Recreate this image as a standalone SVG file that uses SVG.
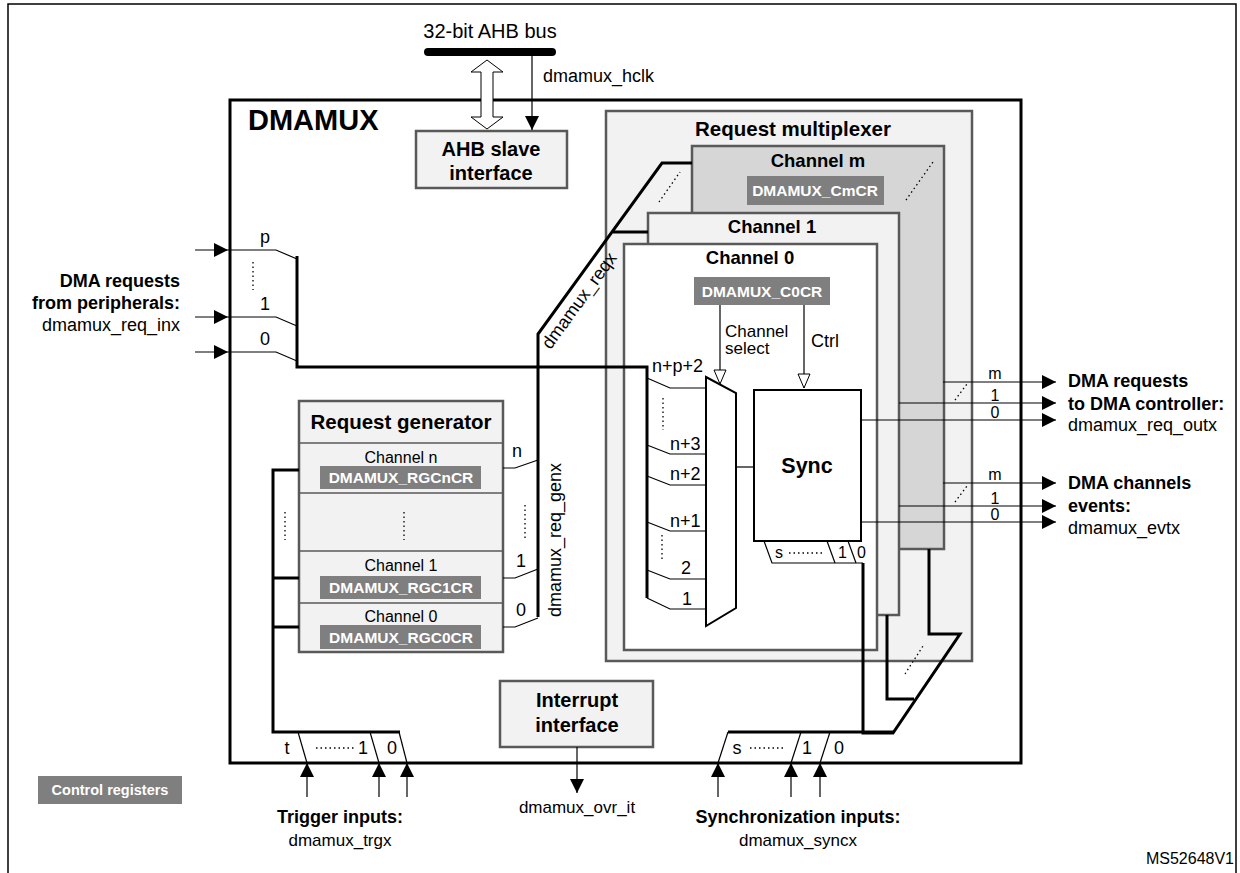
<svg xmlns="http://www.w3.org/2000/svg" width="1240" height="873" viewBox="0 0 1240 873">
<defs>
<marker id="ah" markerUnits="userSpaceOnUse" markerWidth="16" markerHeight="14" refX="14" refY="7" orient="auto"><path d="M0,0 L14,7 L0,14 Z" fill="#000"/></marker>
<marker id="oh" markerUnits="userSpaceOnUse" markerWidth="18" markerHeight="14" refX="15" refY="7" orient="auto"><path d="M1,1 L15,7 L1,13 Z" fill="#fff" stroke="#000" stroke-width="1"/></marker>
<style>
text{font-family:"Liberation Sans",Arial,sans-serif;fill:#000}
.b{font-weight:bold}
.t20{font-size:20px}
.t18{font-size:18px}
.t17{font-size:17px}
.t16{font-size:16px}
.t14{font-size:14px}
.reg{fill:#7f7f7f}
.regt{fill:#fff;font-weight:bold;font-size:15.5px}
.box{stroke:#595959;stroke-width:2.5}
.thin{stroke:#000;stroke-width:1.2;fill:none}
.thick{stroke:#000;stroke-width:3;fill:none}
.dot{stroke:#000;stroke-width:1.3;stroke-dasharray:1.5 3;fill:none}
.m{text-anchor:middle}
.e{text-anchor:end}
</style>
</defs>
<rect x="8" y="4" width="1228" height="880" fill="#fff" stroke="#000" stroke-width="1.5"/>

<g id="dmamux">
<rect x="230" y="100" width="791" height="663" fill="#fff" stroke="#000" stroke-width="3"/>
<text x="248" y="130" class="b" font-size="29">DMAMUX</text>
</g>

<g id="ahb-bus">
<line x1="428" y1="52" x2="552" y2="52" stroke="#000" stroke-width="8" stroke-linecap="round"/>
<text x="490" y="38" class="m" font-size="20">32-bit AHB bus</text>
<text x="543" y="82" class="t18">dmamux_hclk</text>
</g>

<g id="ahb-slave">
<rect x="416" y="131" width="151" height="57" fill="#f2f2f2" class="box"/>
<text x="491" y="156" class="b t20 m">AHB slave</text>
<text x="491" y="180" class="b t20 m">interface</text>
</g>

<g id="request-multiplexer">
<rect x="606" y="111" width="366" height="550" fill="#f2f2f2" class="box"/>
<text x="793" y="136" class="b m" font-size="20.5">Request multiplexer</text>
</g>
<g id="channel-m">
<rect x="692" y="146" width="252" height="403" fill="#d6d6d6" class="box"/>
<text x="818" y="167" class="b m" font-size="18.5">Channel m</text>
<rect x="747" y="176" width="137" height="29" class="reg"/>
<text x="815" y="196" class="regt m">DMAMUX_CmCR</text>
</g>
<g id="channel-1">
<rect x="648" y="213" width="251" height="402" fill="#f2f2f2" class="box"/>
<text x="772" y="233" class="b m" font-size="18.5">Channel 1</text>
</g>
<g id="channel-0">
<rect x="624" y="244" width="253" height="406" fill="#fff" class="box"/>
<text x="750" y="264" class="b m" font-size="18.5">Channel 0</text>
<rect x="694" y="277" width="136" height="28" class="reg"/>
<text x="762" y="297" class="regt m">DMAMUX_C0CR</text>
<text x="725" y="337" class="t17">Channel</text>
<text x="725" y="354" class="t17">select</text>
<text x="811" y="347" class="t18">Ctrl</text>
</g>
<g id="mux">
<polygon points="706,377 736,393 736,608 706,626" fill="#fff" stroke="#000" stroke-width="2"/>
</g>
<g id="sync">
<rect x="754" y="390" width="107" height="151" fill="#fff" stroke="#000" stroke-width="2"/>
<text x="807" y="473" class="b m" font-size="21.5">Sync</text>
<text x="775" y="558" class="t16">s</text>
<line x1="789" y1="553" x2="822" y2="553" class="dot"/>
<text x="838" y="558" class="t16">1</text>
<text x="857" y="558" class="t16">0</text>
</g>

<g id="request-generator">
<rect x="299" y="401" width="204" height="251" fill="#f2f2f2" class="box"/>
<line x1="299" y1="443" x2="503" y2="443" stroke="#595959" stroke-width="1.5"/>
<line x1="299" y1="493" x2="503" y2="493" stroke="#595959" stroke-width="1.5"/>
<line x1="299" y1="551" x2="503" y2="551" stroke="#595959" stroke-width="1.5"/>
<line x1="299" y1="603" x2="503" y2="603" stroke="#595959" stroke-width="1.5"/>
<text x="401" y="429" class="b m" font-size="20.5">Request generator</text>
<text x="401" y="463" class="t16 m">Channel n</text>
<rect x="320" y="466" width="161" height="23" class="reg"/>
<text x="401" y="483" class="regt m">DMAMUX_RGCnCR</text>
<line x1="404" y1="512" x2="404" y2="540" class="dot"/>
<text x="401" y="571" class="t16 m">Channel 1</text>
<rect x="320" y="576" width="161" height="23" class="reg"/>
<text x="401" y="593" class="regt m">DMAMUX_RGC1CR</text>
<text x="401" y="622" class="t16 m">Channel 0</text>
<rect x="320" y="625" width="161" height="24" class="reg"/>
<text x="401" y="643" class="regt m">DMAMUX_RGC0CR</text>
</g>

<g id="interrupt">
<rect x="500" y="681" width="153" height="66" fill="#f2f2f2" class="box"/>
<text x="577" y="707" class="b t20 m">Interrupt</text>
<text x="577" y="732" class="b t20 m">interface</text>
</g>

<g id="control-registers">
<rect x="38" y="776" width="144" height="28" class="reg"/>
<text x="110" y="795" class="m" font-size="14.5" font-weight="bold" style="fill:#fff">Control registers</text>
</g>

<g id="connectors">
<polygon points="487,60 503,72 493,72 493,117 503,117 487,129 471,117 481,117 481,72 471,72" fill="#fff" stroke="#000" stroke-width="1"/>
<line x1="532" y1="55" x2="532" y2="130" class="thin" marker-end="url(#ah)"/>
<line x1="195" y1="250" x2="228" y2="250" class="thin" marker-end="url(#ah)"/>
<line x1="195" y1="317" x2="228" y2="317" class="thin" marker-end="url(#ah)"/>
<line x1="195" y1="352" x2="228" y2="352" class="thin" marker-end="url(#ah)"/>
<polyline points="228,250 276,250 297,259" class="thin"/>
<polyline points="228,317 276,317 297,326" class="thin"/>
<polyline points="228,352 276,352 297,361" class="thin"/>
<line x1="253" y1="262" x2="253" y2="290" class="dot"/>
<text x="265" y="243" class="t18 m">p</text>
<text x="265" y="310" class="t18 m">1</text>
<text x="265" y="345" class="t18 m">0</text>
<polyline points="297,256 297,367 647,367 647,598" class="thick"/>
<polyline points="692,163 662,163 538,334 538,617" class="thick"/>
<line x1="648" y1="232" x2="613" y2="232" class="thick"/>
<line x1="659" y1="202" x2="680" y2="172" class="dot"/>
<line x1="906" y1="200" x2="933" y2="162" class="dot"/>
<text transform="translate(584,304) rotate(-54)" class="t18 m">dmamux_reqx</text>
<polyline points="503,468 515,468 538,460" class="thin"/>
<polyline points="503,578 515,578 538,569" class="thin"/>
<polyline points="503,627 515,627 538,618" class="thin"/>
<text x="517" y="457" class="t18 m">n</text>
<text x="521" y="567" class="t18 m">1</text>
<text x="521" y="616" class="t18 m">0</text>
<line x1="525" y1="505" x2="525" y2="540" class="dot"/>
<text transform="translate(561,540) rotate(-90)" class="t18 m">dmamux_req_genx</text>
<polyline points="647,378 670,388 706,388" class="thin"/>
<polyline points="647,445 670,454 706,454" class="thin"/>
<polyline points="647,476 670,485 706,485" class="thin"/>
<polyline points="647,522 670,531 706,531" class="thin"/>
<polyline points="647,570 670,579 706,579" class="thin"/>
<polyline points="647,598 670,609 706,609" class="thin"/>
<text x="652" y="372" class="t18">n+p+2</text>
<text x="670" y="450" class="t18">n+3</text>
<text x="670" y="480" class="t18">n+2</text>
<text x="670" y="527" class="t18">n+1</text>
<text x="681" y="574" class="t18">2</text>
<text x="682" y="605" class="t18">1</text>
<line x1="663" y1="398" x2="663" y2="430" class="dot"/>
<line x1="662" y1="535" x2="662" y2="562" class="dot"/>
<line x1="720" y1="305" x2="720" y2="384" class="thin" marker-end="url(#oh)"/>
<line x1="804" y1="305" x2="804" y2="388" class="thin" marker-end="url(#oh)"/>
<line x1="736" y1="467" x2="754" y2="467" class="thin" stroke-width="1.5"/>
<polyline points="764,541 772,563 863,563" class="thin"/>
<line x1="827" y1="541" x2="835" y2="563" class="thin"/>
<line x1="848" y1="541" x2="856" y2="563" class="thin"/>
<polyline points="863,563 863,733 893,733 960,634 929,634 929,549" class="thick"/>
<polyline points="887,615 887,699 914,699" class="thick"/>
<line x1="905" y1="674" x2="923" y2="646" class="dot"/>
<line x1="943" y1="382" x2="1056" y2="382" class="thin" marker-end="url(#ah)"/>
<line x1="899" y1="403" x2="1056" y2="403" class="thin" marker-end="url(#ah)"/>
<line x1="861" y1="420" x2="1056" y2="420" class="thin" marker-end="url(#ah)"/>
<line x1="955" y1="400" x2="967" y2="384" class="dot"/>
<text x="995" y="379" class="t16 m">m</text>
<text x="995" y="401" class="t16 m">1</text>
<text x="995" y="418" class="t16 m">0</text>
<line x1="943" y1="483" x2="1056" y2="483" class="thin" marker-end="url(#ah)"/>
<line x1="899" y1="506" x2="1056" y2="506" class="thin" marker-end="url(#ah)"/>
<line x1="861" y1="522" x2="1056" y2="522" class="thin" marker-end="url(#ah)"/>
<line x1="955" y1="502" x2="967" y2="486" class="dot"/>
<text x="995" y="480" class="t16 m">m</text>
<text x="995" y="504" class="t16 m">1</text>
<text x="995" y="520" class="t16 m">0</text>
<polyline points="299,470 273,470 273,732 400,732" class="thick"/>
<line x1="273" y1="578" x2="299" y2="578" class="thick"/>
<line x1="273" y1="627" x2="299" y2="627" class="thick"/>
<line x1="285" y1="512" x2="285" y2="540" class="dot"/>
<line x1="298" y1="732" x2="307" y2="763" class="thin"/>
<line x1="370" y1="732" x2="379" y2="763" class="thin"/>
<line x1="399" y1="732" x2="407" y2="763" class="thin"/>
<text x="287" y="754" class="t18 m">t</text>
<line x1="316" y1="748" x2="354" y2="748" class="dot"/>
<text x="363" y="754" class="t18 m">1</text>
<text x="392" y="754" class="t18 m">0</text>
<line x1="307" y1="797" x2="307" y2="763" class="thin" marker-end="url(#ah)"/>
<line x1="379" y1="797" x2="379" y2="763" class="thin" marker-end="url(#ah)"/>
<line x1="407" y1="797" x2="407" y2="763" class="thin" marker-end="url(#ah)"/>
<line x1="728" y1="732" x2="893" y2="732" class="thick"/>
<line x1="728" y1="732" x2="718" y2="763" class="thin"/>
<line x1="801" y1="732" x2="791" y2="763" class="thin"/>
<line x1="830" y1="732" x2="820" y2="763" class="thin"/>
<text x="737" y="754" class="t18 m">s</text>
<line x1="750" y1="748" x2="784" y2="748" class="dot"/>
<text x="807" y="754" class="t18 m">1</text>
<text x="839" y="754" class="t18 m">0</text>
<line x1="718" y1="797" x2="718" y2="763" class="thin" marker-end="url(#ah)"/>
<line x1="791" y1="797" x2="791" y2="763" class="thin" marker-end="url(#ah)"/>
<line x1="820" y1="797" x2="820" y2="763" class="thin" marker-end="url(#ah)"/>
<line x1="577" y1="747" x2="577" y2="793" class="thin" marker-end="url(#ah)"/>
</g>

<g id="labels">
<text x="180" y="287" class="b t18 e">DMA requests</text>
<text x="180" y="309" class="b t18 e">from peripherals:</text>
<text x="180" y="331" class="t18 e">dmamux_req_inx</text>
<text x="1068" y="387" class="b t18">DMA requests</text>
<text x="1068" y="410" class="b t18">to DMA controller:</text>
<text x="1068" y="431" class="t18">dmamux_req_outx</text>
<text x="1068" y="489" class="b t18">DMA channels</text>
<text x="1068" y="512" class="b t18">events:</text>
<text x="1068" y="534" class="t18">dmamux_evtx</text>
<text x="340" y="823" class="b t18 m">Trigger inputs:</text>
<text x="340" y="846" class="t17 m">dmamux_trgx</text>
<text x="577" y="813" class="t17 m">dmamux_ovr_it</text>
<text x="798" y="823" class="b t18 m">Synchronization inputs:</text>
<text x="798" y="846" class="t17 m">dmamux_syncx</text>
<text x="1234" y="864" class="t16 e">MS52648V1</text>
</g>
</svg>
